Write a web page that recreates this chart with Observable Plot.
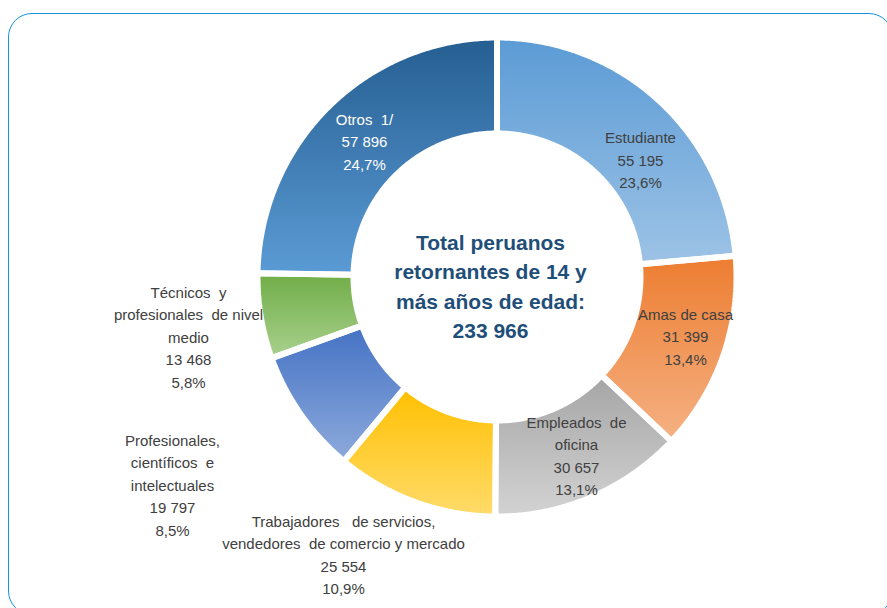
<!DOCTYPE html>
<html><head><meta charset="utf-8">
<script src="https://cdn.jsdelivr.net/npm/d3@7"></script>
<script src="https://cdn.jsdelivr.net/npm/@observablehq/plot@0.6"></script>
<style>
body{margin:0;background:#fff;overflow:hidden;font-family:"Liberation Sans",Arial,sans-serif;}
#wrap{position:relative;width:887px;height:608px;overflow:hidden;}
#frame{position:absolute;left:8px;top:13px;width:885px;height:602px;border:1.5px solid #1592d8;border-radius:24px;pointer-events:none;box-sizing:border-box;}
</style></head><body>
<svg width="0" height="0" style="position:absolute"><defs id="gradDefs"></defs></svg>
<div id="wrap"><div id="chart"></div><div id="frame"></div></div>
<script>
// ---- data (clockwise from 12 o'clock) ----
const categories = [
  "Estudiante",
  "Amas de casa",
  "Empleados  de\noficina",
  "Trabajadores   de servicios,\nvendedores  de comercio y mercado",
  "Profesionales,\ncientíficos  e\nintelectuales",
  "Técnicos  y\nprofesionales  de nivel\nmedio",
  "Otros  1/"
];
const values = [55195, 31399, 30657, 25554, 19797, 13468, 57896];
const valueLabels = ["55 195", "31 399", "30 657", "25 554", "19 797", "13 468", "57 896"];
const percentLabels = ["23,6%", "13,4%", "13,1%", "10,9%", "8,5%", "5,8%", "24,7%"];
const centerLines = ["Total peruanos", "retornantes de 14 y", "más años de edad:", "233 966"];

// ---- styles / layout ----
const colorsTop    = ["#5b9bd5", "#ed7d31", "#a5a5a5", "#ffc000", "#4472c4", "#70ad47", "#255e91"];
const colorsBottom = ["#9dc3e6", "#f5b183", "#d3d3d3", "#ffdb6b", "#8eaadc", "#a9d18e", "#5b9bd5"];
const labelColors  = ["#404040", "#404040", "#404040", "#404040", "#404040", "#404040", "#ffffff"];
// label block centres, px offsets from the donut centre (y up)
const labelOffsets = [[143.5, 118.5], [188.5, -58], [79.5, -177.5], [-153.5, -276.5], [-324.5, -206.5], [-308.5, -58.5], [-132.5, 137]];
const W = 887, H = 608, CX = 496.5, CY = 276.5;
const R_OUT = 239.5, R_IN = 143.5, GAP = 6;

// gradients
const defs = document.getElementById("gradDefs");
defs.innerHTML = colorsTop.map((c, i) =>
  `<linearGradient id="g${i}" x1="0" y1="0" x2="0" y2="1"><stop offset="0" stop-color="${c}"/><stop offset="1" stop-color="${colorsBottom[i]}"/></linearGradient>`
).join("");

// slice polygons from the values
const total = d3.sum(values);
let cum = 0;
const slices = values.map((v, i) => {
  const a0 = cum / total * 2 * Math.PI;
  cum += v;
  const a1 = cum / total * 2 * Math.PI;
  const n = Math.max(2, Math.ceil((a1 - a0) / (Math.PI / 360)) + 1);
  const pts = [];
  for (let k = 0; k < n; k++) { const a = a0 + (a1 - a0) * k / (n - 1); pts.push({x: R_OUT * Math.sin(a), y: R_OUT * Math.cos(a)}); }
  for (let k = n - 1; k >= 0; k--) { const a = a0 + (a1 - a0) * k / (n - 1); pts.push({x: R_IN * Math.sin(a), y: R_IN * Math.cos(a)}); }
  return pts;
});

const labels = categories.map((c, i) => ({
  x: labelOffsets[i][0], y: labelOffsets[i][1],
  text: `${c}\n${valueLabels[i]}\n${percentLabels[i]}`,
  color: labelColors[i]
}));

const chart = Plot.plot({
  width: W, height: H,
  margin: 0,
  x: {domain: [-CX, W - CX], axis: null},
  y: {domain: [-(H - CY), CY], axis: null},
  style: {fontFamily: '"Liberation Sans", Arial, sans-serif', background: "transparent"},
  marks: [
    ...slices.map((pts, i) => Plot.line(pts, {x: "x", y: "y", curve: "linear-closed", fill: `url(#g${i})`, stroke: "none"})),
    ...slices.map((pts) => Plot.line(pts, {x: "x", y: "y", curve: "linear-closed", fill: "none", stroke: "white", strokeWidth: GAP, strokeLinejoin: "miter"})),
    Plot.text(labels, {x: "x", y: "y", text: "text", fill: "color", fontSize: 15, lineHeight: 1.5, textAnchor: "middle", lineAnchor: "middle"}),
    Plot.text([centerLines.join("\n")], {x: () => -6.5, y: () => -7.5, text: d => d, fill: "#1f4e79", fontSize: 21, fontWeight: "bold", lineHeight: 1.4, textAnchor: "middle", lineAnchor: "middle"})
  ]
});
document.getElementById("chart").appendChild(chart);
</script>
</body></html>
